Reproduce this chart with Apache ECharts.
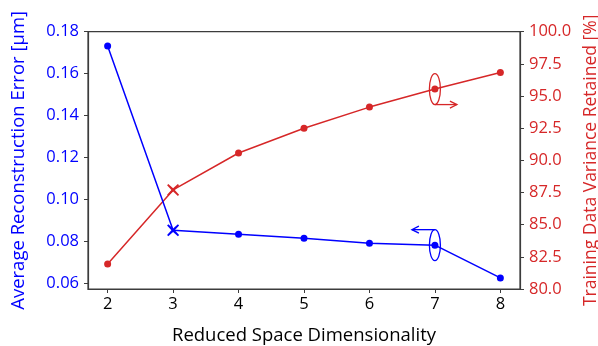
<!DOCTYPE html>
<html><head><meta charset="utf-8">
<script src="https://cdn.jsdelivr.net/npm/echarts@6/dist/echarts.min.js"></script>
<style>html,body{margin:0;padding:0;background:#fff}#c{width:598px;height:346px}</style>
</head><body><div id="c"></div>
<script>
// ---- data ----
const dims = [2, 3, 4, 5, 6, 7, 8];
const reconError = [0.1732, 0.0853, 0.0834, 0.0815, 0.0791, 0.0782, 0.0626];
const varianceRetained = [81.94, 87.7, 90.57, 92.5, 94.14, 95.54, 96.83];
const xTicks = [2, 3, 4, 5, 6, 7, 8];
const leftTicks = [0.06, 0.08, 0.10, 0.12, 0.14, 0.16, 0.18];
const rightTicks = [80, 82.5, 85, 87.5, 90, 92.5, 95, 97.5, 100];
const markedIndex = 1;     // X marker at dimensionality 3
const annotIndex = 5;      // ellipse annotations at dimensionality 7

const BLUE = '#0000ff', RED = '#d62728', AX = '#3c3c3c';
const FONT = 'Open Sans';
const XPATH = 'path://M1,0 L5,3.6 L9,0 L10,1 L6.4,5 L10,9 L9,10 L5,6.4 L1,10 L0,9 L3.6,5 L0,1 Z';

function mkData(vals) {
  return dims.map((d, i) => i === markedIndex
    ? { value: [d, vals[i]], symbol: XPATH, symbolSize: 12 }
    : { value: [d, vals[i]] });
}

function annot(color, dir) {
  return function (params, api) {
    const p = api.coord([api.value(0), api.value(1)]);
    const cx = p[0], cy = p[1], rx = 5.5, ry = 15.5;
    let line, head;
    if (dir > 0) {
      const y = cy + ry, x0 = cx, x1 = cx + 22;
      line = [[x0, y], [x1, y]];
      head = [[x1 - 7, y - 3.5], [x1, y], [x1 - 7, y + 3.5]];
    } else {
      const y = cy - ry, x0 = cx, x1 = cx - 23;
      line = [[x0, y], [x1, y]];
      head = [[x1 + 7, y - 3.5], [x1, y], [x1 + 7, y + 3.5]];
    }
    const st = { stroke: color, fill: null, lineWidth: 1.3 };
    return { type: 'group', children: [
      { type: 'ellipse', shape: { cx: cx, cy: cy, rx: rx, ry: ry }, style: st },
      { type: 'polyline', shape: { points: line }, style: st },
      { type: 'polyline', shape: { points: head }, style: st }
    ]};
  };
}

const chart = echarts.init(document.getElementById('c'), null, { renderer: 'canvas' });
chart.setOption({
  animation: false,
  textStyle: { fontFamily: FONT },
  grid: { left: 88, right: 78, top: 31.7, bottom: 57, show: true, borderColor: AX, borderWidth: 1.2,
    containLabel: false, outerBoundsMode: 'none' },
  xAxis: {
    type: 'value', min: 1.7, max: 8.3,
    name: 'Reduced Space Dimensionality', nameLocation: 'middle', nameGap: 37,
    nameTextStyle: { fontSize: 18.5, color: '#000', fontFamily: FONT },
    axisLine: { show: true, onZero: false, lineStyle: { color: AX, width: 1.2 } },
    axisTick: { show: true, length: 4, inside: false, customValues: xTicks, lineStyle: { color: AX } },
    axisLabel: { customValues: xTicks, fontSize: 16.5, color: '#000', margin: 7, fontFamily: FONT },
    splitLine: { show: false }
  },
  yAxis: [{
    type: 'value', min: 0.0573, max: 0.18, position: 'left',
    name: 'Average Reconstruction Error [µm]', nameLocation: 'middle', nameGap: 60,
    nameTextStyle: { fontSize: 18.5, color: BLUE, fontFamily: FONT },
    axisLine: { show: true, lineStyle: { color: AX, width: 1.2 } },
    axisTick: { show: true, length: 4, customValues: leftTicks, lineStyle: { color: AX } },
    axisLabel: { customValues: leftTicks, fontSize: 16.5, color: BLUE, margin: 9, fontFamily: FONT,
      formatter: v => v.toFixed(2) },
    splitLine: { show: false }
  }, {
    type: 'value', min: 80, max: 100, position: 'right',
    name: 'Training Data Variance Retained [%]', nameLocation: 'middle', nameGap: 61, nameRotate: 90,
    nameTextStyle: { fontSize: 17.5, color: RED, fontFamily: FONT },
    axisLine: { show: true, lineStyle: { color: AX, width: 1.2 } },
    axisTick: { show: true, length: 4, customValues: rightTicks, lineStyle: { color: AX } },
    axisLabel: { customValues: rightTicks, fontSize: 16.5, color: RED, margin: 9, fontFamily: FONT,
      formatter: v => v.toFixed(1) },
    splitLine: { show: false }
  }],
  series: [{
    type: 'line', yAxisIndex: 0, data: mkData(reconError),
    symbol: 'circle', symbolSize: 7, showSymbol: true,
    lineStyle: { color: BLUE, width: 1.5 }, itemStyle: { color: BLUE }, z: 3
  }, {
    type: 'line', yAxisIndex: 1, data: mkData(varianceRetained),
    symbol: 'circle', symbolSize: 7, showSymbol: true,
    lineStyle: { color: RED, width: 1.5 }, itemStyle: { color: RED }, z: 2
  }, {
    type: 'custom', yAxisIndex: 1, renderItem: annot(RED, 1),
    data: [[dims[annotIndex], varianceRetained[annotIndex]]], z: 4
  }, {
    type: 'custom', yAxisIndex: 0, renderItem: annot(BLUE, -1),
    data: [[dims[annotIndex], reconError[annotIndex]]], z: 4
  }]
});
</script></body></html>
